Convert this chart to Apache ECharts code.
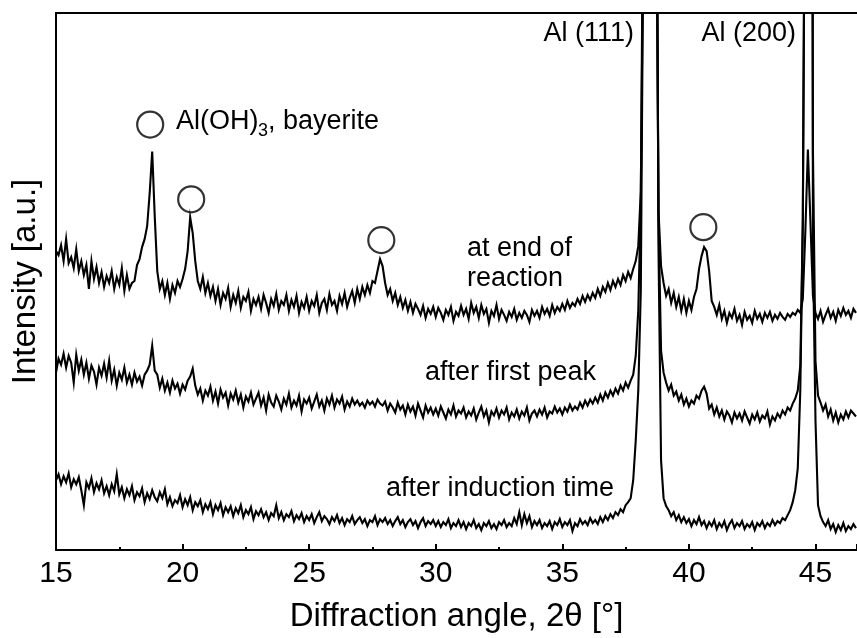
<!DOCTYPE html>
<html>
<head>
<meta charset="utf-8">
<title>XRD patterns</title>
<script src="https://cdn.jsdelivr.net/npm/echarts/dist/echarts.min.js"></script>
<style>
  html, body { margin: 0; padding: 0; background: #fff; }
  #chart { width: 857px; height: 638px; }
</style>
</head>
<body>
<div id="chart"></div>
<script>
// Scan grid: 2θ from 15.0° in 0.1° steps
const angleStart = 15.0;
const angleStep = 0.1;

// Diffraction intensity [a.u.], one row per degree (15.x, 16.x, ...)
const endOfReaction = [
  300, 296, 306, 290, 312, 288, 294, 283, 302, 280,
  290, 276, 286, 262, 290, 272, 284, 268, 279, 264,
  275, 268, 280, 262, 274, 266, 283, 260, 276, 262,
  268, 270, 286, 292, 304, 312, 325, 358, 400, 335,
  280, 262, 270, 256, 268, 252, 266, 258, 270, 264,
  272, 282, 300, 334, 318, 290, 270, 262, 274, 258,
  268, 255, 264, 250, 262, 246, 258, 252, 263, 244,
  256, 248, 260, 243, 254, 250, 259, 240, 252, 246,
  254, 242, 256, 248, 238, 252, 245, 257, 241, 250,
  246, 256, 240, 251, 244, 255, 238, 249, 243, 254,
  240, 250, 245, 256, 238, 248, 252, 241, 257, 246,
  250, 240, 255, 247, 258, 244, 253, 260, 248, 262,
  252, 264, 256, 266, 258, 270, 268, 280, 292, 285,
  268, 256, 262, 250, 258, 246, 254, 243, 251, 240,
  249, 238, 247, 242, 236, 245, 233, 242, 237, 244,
  234, 243, 238, 231, 241, 236, 244, 230, 239, 235,
  245, 236, 242, 232, 248, 238, 244, 233, 246, 237,
  242, 228, 240, 235, 246, 232, 241, 236, 230, 239,
  234, 242, 231, 238, 233, 240, 236, 229, 241, 235,
  240, 233, 244, 237, 242, 235, 246, 238, 244, 240,
  247, 241, 250, 243, 248, 245, 252, 247, 255, 249,
  256, 251, 258, 253, 262, 255, 264, 259, 268, 261,
  270, 264, 272, 266, 276, 270, 279, 273, 282, 290,
  305, 360, 620, 1400, 2800, 2800, 1500, 700, 340, 285,
  268, 255, 262, 248, 258, 244, 254, 240, 252, 238,
  250, 241, 254, 262, 282, 295, 304, 300, 280, 250,
  244, 236, 246, 232, 240, 228, 238, 233, 242, 230,
  236, 226, 239, 231, 235, 228, 240, 232, 237, 229,
  238, 233, 239, 230, 236, 232, 238, 234, 231, 237,
  234, 238, 236, 241, 238, 252, 320, 402, 330, 255,
  238, 232, 240, 229, 236, 242, 233, 239, 230, 241,
  235, 243, 236, 240, 233, 242, 238
];

const afterFirstPeak = [
  178, 192, 186, 197, 183, 195, 188, 168, 196, 180,
  191, 176, 188, 172, 185, 179, 166, 183, 175, 187,
  173, 190, 170, 181, 165, 178, 171, 183, 168, 176,
  166, 178, 169, 174, 165, 176, 180, 186, 205, 180,
  176, 163, 172, 160, 168, 158, 170, 162, 167, 157,
  166, 161, 170, 174, 182, 165, 156, 162, 150, 160,
  155, 164, 150, 159, 147, 161, 153, 158, 145, 157,
  151, 160, 148, 156, 143, 154, 149, 158, 146, 152,
  158, 145, 153, 140, 156, 148, 144, 155, 149, 141,
  152, 146, 157, 143, 150, 145, 155, 139, 151, 147,
  153, 142, 149, 156, 144, 150, 140, 152, 146, 155,
  143, 151, 147, 154, 141, 149, 144, 152, 146, 150,
  145, 148, 143, 150, 146, 149, 144, 151, 147, 145,
  149, 140, 147, 143, 138, 148, 141, 145, 136, 146,
  139, 144, 135, 147, 140, 133, 145, 138, 143, 136,
  142, 135, 144, 138, 132, 141, 136, 145, 134, 140,
  137, 143, 133, 139, 135, 142, 131, 138, 144, 134,
  140, 128, 139, 135, 142, 133, 140, 136, 143, 131,
  138, 134, 141, 132, 139, 135, 143, 130, 137, 140,
  134, 141, 136, 143, 133, 139, 137, 144, 138, 142,
  136, 143, 139, 146, 140, 144, 141, 148, 143, 150,
  145, 151, 147, 153, 148, 156, 150, 158, 153, 160,
  155, 162, 157, 165, 160, 168, 163, 170, 176, 195,
  240, 350, 700, 1600, 3000, 3000, 1800, 800, 330, 200,
  178, 168, 160, 166, 155, 159, 150, 156, 146, 152,
  144, 150, 147, 155, 152, 160, 164, 157, 142, 146,
  136, 143, 134, 140, 131, 139, 135, 128, 138, 132,
  137, 130, 139, 133, 127, 136, 131, 138, 129, 135,
  132, 139, 126, 134, 130, 137, 133, 140, 136, 143,
  140, 147, 152, 160, 185, 330, 800, 2000, 2000, 400,
  190, 155, 148, 140, 146, 134, 141, 130, 138, 128,
  136, 131, 139, 133, 140, 137, 134
];

const afterInduction = [
  70, 76, 66, 74, 68, 77, 63, 71, 66, 73,
  60, 45, 68, 62, 72, 58, 67, 61, 70, 57,
  64, 55, 66, 59, 76, 56, 63, 52, 61, 55,
  64, 50, 58, 54, 62, 48, 57, 51, 60, 53,
  49, 58, 52, 61, 46, 53, 44, 50, 47, 55,
  43, 51, 45, 53, 40, 48, 44, 50, 38, 46,
  41, 48, 36, 45, 40, 47, 35, 43, 38, 44,
  34, 42, 37, 45, 33, 40, 36, 43, 31, 39,
  35, 41, 33, 38, 30, 37, 34, 45, 32, 38,
  30, 36, 33, 39, 29, 35, 31, 37, 28, 34,
  30, 36, 27, 33, 38, 29, 34, 31, 26, 33,
  29, 35, 27, 32, 25, 31, 28, 34, 26, 30,
  33, 27, 31, 24, 30, 28, 34, 25, 31, 28,
  32, 26, 30, 24, 29, 33, 26, 30, 23, 28,
  31, 25, 29, 22, 28, 32, 24, 29, 26, 30,
  24, 29, 23, 28, 25, 31, 22, 27, 24, 30,
  23, 28, 21, 27, 24, 30, 22, 26, 20, 27,
  24, 29, 22, 26, 21, 28, 25, 30, 23, 27,
  24, 32, 26, 38, 25, 36, 27, 34, 23, 29,
  25, 30, 22, 27, 24, 29, 21, 28, 25, 31,
  23, 28, 25, 30, 19, 27, 24, 31, 26, 29,
  25, 32, 27, 30, 26, 33, 28, 34, 30, 36,
  32, 38, 35, 41, 38, 45, 48, 52, 70, 110,
  160, 260, 620, 1500, 3000, 3000, 1800, 900, 300, 90,
  52, 44, 40, 34, 38, 30, 35, 28, 33, 27,
  31, 24, 30, 26, 33, 25, 29, 22, 28, 24,
  30, 21, 27, 23, 29, 20, 26, 30, 22, 27,
  24, 29, 21, 26, 23, 28, 20, 27, 24, 29,
  22, 27, 24, 30, 25, 29, 27, 32, 30, 35,
  40, 48, 60, 82, 160, 330, 800, 2000, 2000, 300,
  130, 45, 34, 28, 24, 30, 21, 26, 18, 25,
  20, 27, 19, 24, 21, 26, 22
];

// Bayerite reflections marked with open circles (2θ, marker height)
const bayeriteAngles = [18.72, 20.34, 27.85, 40.57];
const bayeriteMarkLevels = [427, 352, 311, 324];

// Axis range and ticks
const xTickStart = 15;
const xTickStep = 5;
const xEnd = 46.64;
const yTop = 539;

const FONT = '"Liberation Sans", Arial, Helvetica, sans-serif';

function toPairs(values) {
  return values.map((v, i) => [+(angleStart + i * angleStep).toFixed(2), v]);
}

const chart = echarts.init(document.getElementById('chart'), null, { renderer: 'canvas' });

const lineSeries = (name, values) => ({
  name: name,
  type: 'line',
  data: toPairs(values),
  showSymbol: false,
  symbol: 'none',
  clip: true,
  lineStyle: { color: '#000', width: 2.1, join: 'miter' },
  itemStyle: { color: '#000' },
  emphasis: { disabled: true },
  animation: false,
  z: 3
});

function textEl(x, y, text, size, align) {
  return {
    type: 'text',
    x: x,
    y: y,
    silent: true,
    style: {
      text: text,
      fontSize: size,
      fontFamily: FONT,
      fill: '#000',
      align: align,
      textAlign: align,
      verticalAlign: 'middle',
      textVerticalAlign: 'middle'
    }
  };
}

const option = {
  backgroundColor: '#fff',
  animation: false,
  grid: { left: 56, top: 13, right: 0, bottom: 86, containLabel: false },
  xAxis: [
    {
      type: 'value',
      position: 'bottom',
      min: xTickStart,
      max: xEnd,
      interval: xTickStep,
      name: 'Diffraction angle, 2θ [°]',
      nameLocation: 'middle',
      nameGap: 50,
      nameTextStyle: { fontSize: 33, fontFamily: FONT, color: '#000' },
      axisLine: { show: true, onZero: false, lineStyle: { color: '#000', width: 2 } },
      axisTick: { show: true, inside: true, length: 6, lineStyle: { color: '#000', width: 2 } },
      minorTick: { show: true, splitNumber: 2, length: 3, lineStyle: { color: '#000', width: 2 } },
      axisLabel: { show: true, margin: 9, fontSize: 30, fontFamily: FONT, color: '#000', showMaxLabel: false },
      splitLine: { show: false }
    },
    {
      type: 'value',
      position: 'top',
      min: xTickStart,
      max: xEnd,
      axisLine: { show: true, onZero: false, lineStyle: { color: '#000', width: 2 } },
      axisTick: { show: false },
      axisLabel: { show: false },
      splitLine: { show: false }
    }
  ],
  yAxis: {
    type: 'value',
    min: 0,
    max: yTop,
    name: 'Intensity [a.u.]',
    nameLocation: 'middle',
    nameGap: 14,
    nameTextStyle: { fontSize: 33, fontFamily: FONT, color: '#000' },
    axisLine: { show: true, onZero: false, lineStyle: { color: '#000', width: 2 } },
    axisTick: { show: false },
    axisLabel: { show: false },
    splitLine: { show: false }
  },
  series: [
    lineSeries('after induction time', afterInduction),
    lineSeries('after first peak', afterFirstPeak),
    lineSeries('at end of reaction', endOfReaction),
    {
      name: 'bayerite',
      type: 'scatter',
      data: bayeriteAngles.map((a, i) => [a, bayeriteMarkLevels[i]]),
      symbol: 'circle',
      symbolSize: 26,
      itemStyle: { color: 'rgba(255,255,255,0)', borderColor: '#000', borderWidth: 2.2 },
      emphasis: { disabled: true },
      silent: true,
      z: 4
    }
  ],
  graphic: [
    textEl(634, 34, 'Al (111)', 27, 'right'),
    textEl(796, 34, 'Al (200)', 27, 'right'),
    textEl(176, 122, 'Al(OH)', 27, 'left'),
    textEl(258, 131, '3', 18, 'left'),
    textEl(268, 122, ', bayerite', 27, 'left'),
    textEl(467, 249, 'at end of', 27, 'left'),
    textEl(467, 279, 'reaction', 27, 'left'),
    textEl(596, 373, 'after first peak', 27, 'right'),
    textEl(614, 489, 'after induction time', 27, 'right')
  ]
};

chart.setOption(option);
</script>
</body>
</html>
